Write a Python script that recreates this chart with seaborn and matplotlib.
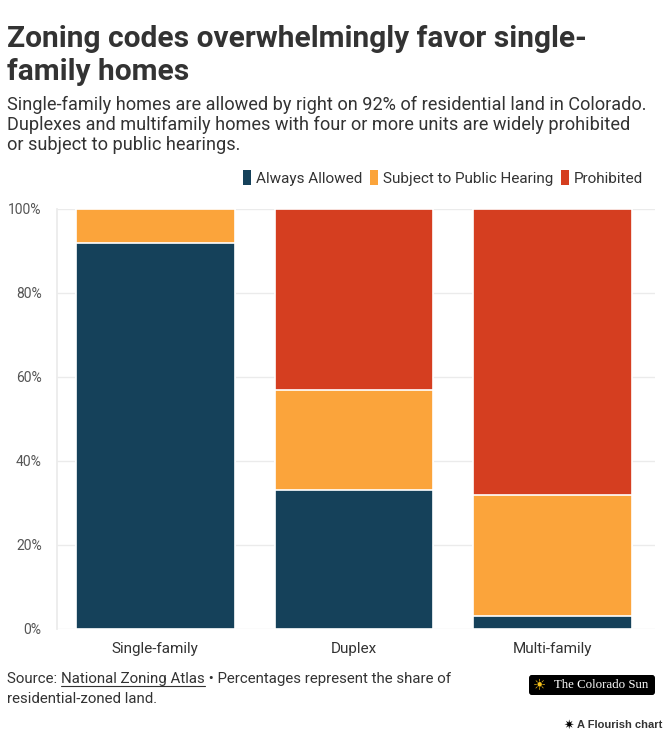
import numpy as np
import pandas as pd
import matplotlib
matplotlib.use("Agg")
import matplotlib.pyplot as plt
import seaborn as sns
from matplotlib.patches import Patch, FancyBboxPatch

categories = ["Single-family", "Duplex", "Multi-family"]
always_allowed = [92, 33, 3]
public_hearing = [8, 24, 29]
prohibited = [0, 43, 68]

series_names = ["Always Allowed", "Subject to Public Hearing", "Prohibited"]
series_colors = ["#15415a", "#fba43b", "#d53e20"]

sns.set_theme(style="white")
plt.rcParams["font.family"] = ["Roboto", "DejaVu Sans"]

W, H = 671, 738

# cumulative tops so the layers can be drawn from the back to the front
df = pd.DataFrame({"category": categories,
                   "Always Allowed": always_allowed,
                   "Subject to Public Hearing": public_hearing,
                   "Prohibited": prohibited})
df["top_always"] = df["Always Allowed"]
df["top_hearing"] = df["top_always"] + df["Subject to Public Hearing"]
df["top_prohibited"] = df["top_hearing"] + df["Prohibited"]

fig = plt.figure(figsize=(W / 100, H / 100), dpi=100)
ax = fig.add_axes([57 / W, 1 - 629 / H, 598 / W, 420 / H])

for col, color in zip(["top_prohibited", "top_hearing", "top_always"], series_colors[::-1]):
    sns.barplot(data=df, x="category", y=col, color=color, width=0.8,
                edgecolor="white", linewidth=1.2, saturation=1, ax=ax, zorder=3)

ax.set_xlim(-0.495, 2.515)
ax.set_ylim(0, 100)
ax.set_yticks(np.arange(0, 101, 20))
ax.set_yticklabels([f"{v}%" for v in range(0, 101, 20)])
ax.set_xlabel("")
ax.set_ylabel("")
ax.grid(axis="y", color="#ebebeb", linewidth=1, zorder=0)
for name, s in ax.spines.items():
    s.set_visible(name == "left")
ax.spines["left"].set_color("#ebebeb")
ax.tick_params(axis="y", length=8, width=1, color="#ebebeb", pad=3,
               labelsize=10, labelcolor="#555555")
ax.tick_params(axis="x", length=5, color="#e0e0e0", width=1, pad=4,
               labelsize=11, labelcolor="#333333")
ax.set_axisbelow(True)

# header, one text per line so each baseline sits where it should
title_lines = ["Zoning codes overwhelmingly favor single-", "family homes"]
for line, yb in zip(title_lines, [47, 80]):
    fig.text(7 / W, 1 - yb / H, line, fontsize=21.5, fontweight="bold",
             color="#333333", va="baseline")
subtitle_lines = [
    "Single-family homes are allowed by right on 92% of residential land in Colorado.",
    "Duplexes and multifamily homes with four or more units are widely prohibited",
    "or subject to public hearings.",
]
for line, yb in zip(subtitle_lines, [110, 130, 150]):
    fig.text(7 / W, 1 - yb / H, line, fontsize=13.1, color="#333333", va="baseline")

handles = [Patch(facecolor=c, edgecolor="none") for c in series_colors]
fig.legend(handles, series_names, loc="center right",
           bbox_to_anchor=(643 / W, 1 - 178 / H), ncol=3, frameon=False,
           fontsize=11, handlelength=0.55, handleheight=1.1, handletextpad=0.3,
           columnspacing=0.5, labelcolor="#333333", borderpad=0, borderaxespad=0)

# footer with underlined link text
fig.canvas.draw()
renderer = fig.canvas.get_renderer()
inv = fig.transFigure.inverted()
y1 = 1 - 683 / H
t1 = fig.text(7 / W, y1, "Source: ", fontsize=10.8, color="#333333", va="baseline")
bb = t1.get_window_extent(renderer).transformed(inv)
t2 = fig.text(bb.x1, y1, "National Zoning Atlas", fontsize=10.8, color="#333333", va="baseline")
bb2 = t2.get_window_extent(renderer).transformed(inv)
fig.add_artist(plt.Line2D([bb2.x0, bb2.x1], [y1 - 3 / H, y1 - 3 / H],
                          color="#333333", linewidth=0.8, transform=fig.transFigure))
fig.text(bb2.x1, y1, " \u2022 Percentages represent the share of",
         fontsize=10.8, color="#333333", va="baseline")
fig.text(7 / W, 1 - 703 / H, "residential-zoned land.", fontsize=10.8,
         color="#333333", va="baseline")

# publisher badge
fig.add_artist(FancyBboxPatch((529 / W, 1 - 695 / H), 126 / W, 20 / H,
                              boxstyle="round,pad=0,rounding_size=0.004",
                              facecolor="black", edgecolor="none",
                              transform=fig.transFigure))
fig.text(539 / W, 1 - 685 / H, "\u2600", fontsize=10.5, color="#f7c21b",
         ha="center", va="center", family=["DejaVu Sans"])
fig.text(601 / W, 1 - 685.5 / H, "The Colorado Sun", fontsize=9.3,
         family=["Liberation Serif"], color="white", ha="center", va="center")

fig.text(569 / W, 1 - 725 / H, "\u2737", fontsize=9, color="black",
         ha="center", va="center", family=["DejaVu Sans"])
fig.text(577 / W, 1 - 725 / H, "A Flourish chart", fontsize=8,
         fontweight="bold", color="#333333", ha="left", va="center",
         family=["Liberation Sans", "DejaVu Sans"])

fig.savefig("out.png", dpi=100, facecolor="white")
